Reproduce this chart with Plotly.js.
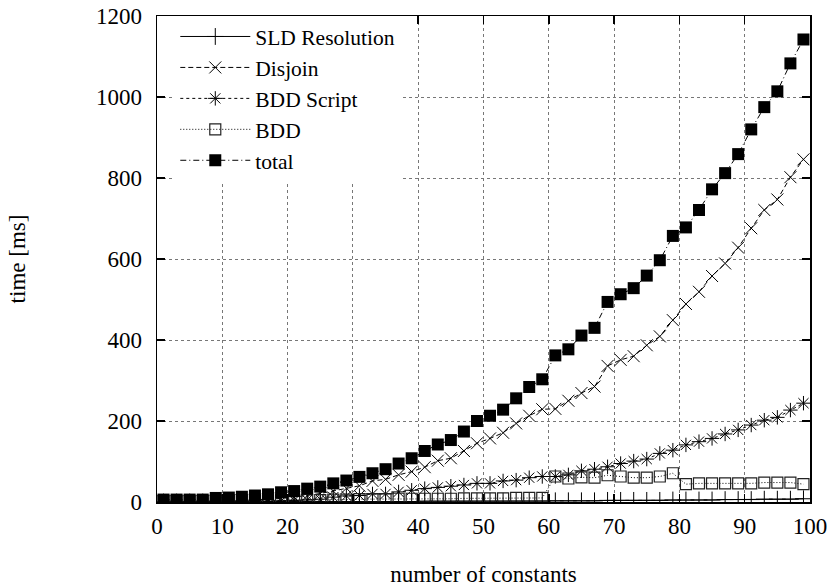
<!DOCTYPE html>
<html>
<head>
<meta charset="utf-8">
<script src="https://cdn.plot.ly/plotly-3.0.1.min.js"></script>
<style>html,body{margin:0;padding:0;background:#fff;}#chart{width:836px;height:587px;}</style>
</head>
<body>
<div id="chart"></div>
<script>
const constants = [1,3,5,7,9,11,13,15,17,19,21,23,25,27,29,31,33,35,37,39,41,43,45,47,49,51,53,55,57,59,61,63,65,67,69,71,73,75,77,79,81,83,85,87,89,91,93,95,97,99];
const sldResolution = [0,0,0,0,0,1,1,1,1,1,1,1,1,1,1,1,1,1,1,1,2,2,2,2,2,2,2,2,2,2,3,3,3,3,4,4,4,4,4,5,5,5,5,6,6,6,7,7,7,8];
const disjoin = [1,1,1,2,2,3,4,5,7,9,12,16,21,27,34,40,52,56,67,75,86,102,108,126,145,157,171,194,213,229,230,250,269,285,336,351,360,387,409,449,489,519,558,589,628,676,721,747,802,846];
const bddScript = [0,0,0,1,1,1,1,2,2,3,4,5,7,12,15,16,20,20,25,29,33,36,39,42,46,46,52,54,60,63,63,67,77,81,87,95,101,106,120,128,141,149,157,168,178,190,202,209,227,244];
const bdd = [3,3,3,3,4,4,4,4,4,5,5,5,5,6,6,7,7,7,8,8,8,8,8,9,9,9,9,10,10,10,63,58,61,60,66,63,60,60,63,71,44,46,46,46,46,46,48,48,48,44];
const total = [6,6,6,6,10,11,13,16,19,24,27,33,38,46,53,62,71,81,95,108,126,142,153,174,200,213,228,256,284,303,362,377,411,430,494,513,528,559,597,657,678,721,772,812,859,920,975,1014,1083,1142];
const seriesNames = ["SLD Resolution","Disjoin","BDD Script","BDD","total"];
const xTickVals = [0,10,20,30,40,50,60,70,80,90,100];
const yTickVals = [0,200,400,600,800,1000,1200];

const FONT = "Liberation Serif";
const FS = 23;
const traces = [
  {x: constants, y: sldResolution, name: seriesNames[0], mode: "lines+markers",
   line: {color: "black", width: 1, dash: "solid"},
   marker: {symbol: "cross-thin", size: 12, color: "black", line: {color: "black", width: 1}}},
  {x: constants, y: disjoin, name: seriesNames[1], mode: "lines+markers",
   line: {color: "black", width: 1, dash: "5px,3px"},
   marker: {symbol: "x-thin", size: 12, color: "black", line: {color: "black", width: 1}}},
  {x: constants, y: bddScript, name: seriesNames[2], mode: "lines+markers",
   line: {color: "black", width: 1, dash: "3px,3px"},
   marker: {symbol: "asterisk", size: 12, color: "black", line: {color: "black", width: 1}}},
  {x: constants, y: bdd, name: seriesNames[3], mode: "lines+markers",
   line: {color: "black", width: 1, dash: "1px,2px"},
   marker: {symbol: "square-open", size: 11, color: "#222", line: {color: "#222", width: 1.2}}},
  {x: constants, y: total, name: seriesNames[4], mode: "lines+markers",
   line: {color: "black", width: 1, dash: "6px,3px,1px,3px"},
   marker: {symbol: "square", size: 12, color: "black"}}
];

const axisCommon = {
  showline: true, linecolor: "black", linewidth: 1.5, mirror: "allticks",
  ticks: "inside", ticklen: 8, tickwidth: 1.5, tickcolor: "black",
  showgrid: true, gridcolor: "#777", griddash: "dot", gridwidth: 1,
  zeroline: false, tickfont: {family: FONT, size: FS, color: "black"}
};

const layout = {
  width: 836, height: 587,
  margin: {l: 157, r: 26, t: 16, b: 85},
  paper_bgcolor: "white", plot_bgcolor: "white",
  font: {family: FONT, size: FS, color: "black"},
  xaxis: Object.assign({}, axisCommon, {
    range: [0, 100], tickvals: xTickVals, ticklabelstandoff: 3,
    title: {text: "number of constants", font: {family: FONT, size: FS}, standoff: 28}
  }),
  yaxis: Object.assign({}, axisCommon, {
    range: [0, 1200], tickvals: yTickVals, ticklabelstandoff: 9,
    title: {text: "time [ms]", font: {family: FONT, size: FS}, standoff: 64}
  }),
  showlegend: true,
  legend: {x: 0.028, xanchor: "left", y: 1.0, yanchor: "top",
           bgcolor: "white", borderwidth: 0,
           font: {family: FONT, size: 21.5, color: "black"},
           itemwidth: 70, tracegroupgap: 0,
           entrywidthmode: "pixels", entrywidth: 350}
};

Plotly.newPlot("chart", traces, layout, {displayModeBar: false, staticPlot: true});
</script>
</body>
</html>
